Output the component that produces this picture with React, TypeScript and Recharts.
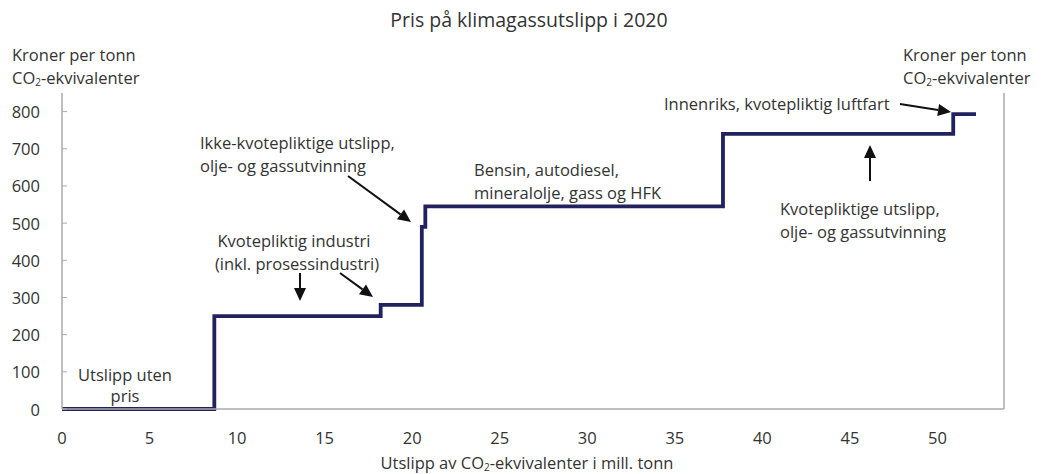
import { LineChart, Line, XAxis, YAxis } from "recharts";

// break points of the price curve (mill. tonn CO2-ekv.) and price from that point on
const emissions = [0, 8.7, 18.2, 20.55, 20.75, 37.75, 50.9, 52.2];
const prices = [0, 250, 280, 490, 545, 740, 793, 793];
const xTicks = [0, 5, 10, 15, 20, 25, 30, 35, 40, 45, 50];
const yTicks = [0, 100, 200, 300, 400, 500, 600, 700, 800];

const data = emissions.map((x, i) => ({ x, price: prices[i] }));

const FONT = "'Open Sans', 'Noto Sans', sans-serif";
const TEXT = "#333";
const AXIS = "#aaa";
const NAVY = "#22225e";
const FS = 16.5;

const LeftTick = ({ x, y, payload }: any) => (
  <g>
    <line x1={x + 22} x2={x + 27} y1={y} y2={y} stroke={AXIS} strokeWidth={1} />
    <text x={x} y={y} textAnchor="end" dominantBaseline="central" fill={TEXT} fontSize={FS} fontFamily={FONT}>
      {payload.value}
    </text>
  </g>
);

const RightTick = ({ x, y, payload }: any) => (
  <g>
    <line x1={x - 28} x2={x - 33} y1={y} y2={y} stroke={AXIS} strokeWidth={1} />
    <text x={x} y={y} textAnchor="start" dominantBaseline="central" fill={TEXT} fontSize={FS} fontFamily={FONT}>
      {payload.value}
    </text>
  </g>
);

const Arrow = ({ x1, y1, x2, y2 }: { x1: number; y1: number; x2: number; y2: number }) => {
  const a = Math.atan2(y2 - y1, x2 - x1);
  const len = 13;
  const w = 6;
  const bx = x2 - len * Math.cos(a);
  const by = y2 - len * Math.sin(a);
  const px = -Math.sin(a) * w;
  const py = Math.cos(a) * w;
  return (
    <g>
      <line x1={x1} y1={y1} x2={bx} y2={by} stroke="#111" strokeWidth={2} />
      <polygon points={`${x2},${y2} ${bx + px},${by + py} ${bx - px},${by - py}`} fill="#111" />
    </g>
  );
};

const T = ({ x, y, anchor = "start", children, size = FS }: any) => (
  <text x={x} y={y} textAnchor={anchor} dominantBaseline="central" fill={TEXT} fontSize={size} fontFamily={FONT}>
    {children}
  </text>
);

const Sub = () => (
  <tspan fontSize={10} dy={5}>2</tspan>
);

export default function App() {
  return (
    <div style={{ position: "relative", width: 1054, height: 474, background: "#fff" }}>
      <style>{`body{margin:0}`}</style>
      <LineChart
        width={1054}
        height={474}
        data={data}
        margin={{ top: 93, right: 0, bottom: 0, left: 0 }}
      >
        <XAxis
          dataKey="x"
          type="number"
          domain={[0, 53.8]}
          ticks={xTicks}
          interval={0}
          height={65}
          axisLine={{ stroke: AXIS, strokeWidth: 1.5 }}
          tickLine={false}
          tickMargin={17}
          tick={{ fill: TEXT, fontSize: FS, fontFamily: FONT }}
        />
        <YAxis
          yAxisId="left"
          orientation="left"
          domain={[0, 850]}
          ticks={yTicks}
          interval={0}
          width={62}
          axisLine={{ stroke: AXIS, strokeWidth: 1.5 }}
          tickLine={false}
          tickSize={0}
          tickMargin={22}
          tick={<LeftTick />}
        />
        <YAxis
          yAxisId="right"
          orientation="right"
          domain={[0, 850]}
          ticks={yTicks}
          interval={0}
          width={50}
          axisLine={{ stroke: AXIS, strokeWidth: 1.5 }}
          tickLine={false}
          tickSize={0}
          tickMargin={28}
          tick={<RightTick />}
        />
        <Line
          yAxisId="left"
          type="stepAfter"
          dataKey="price"
          stroke={NAVY}
          strokeWidth={3.8}
          dot={false}
          isAnimationActive={false}
        />
      </LineChart>

      <svg
        width={1054}
        height={474}
        style={{ position: "absolute", left: 0, top: 0, pointerEvents: "none" }}
      >
        <T x={529} y={19} anchor="middle" size={19.5}>Pris på klimagassutslipp i 2020</T>

        <T x={12} y={54}>Kroner per tonn</T>
        <T x={12} y={77}>CO<Sub /><tspan dy={-5}>-ekvivalenter</tspan></T>
        <T x={903} y={54}>Kroner per tonn</T>
        <T x={903} y={77}>CO<Sub /><tspan dy={-5}>-ekvivalenter</tspan></T>

        <T x={527} y={462} anchor="middle">
          Utslipp av CO<Sub /><tspan dy={-5}>-ekvivalenter i mill. tonn</tspan>
        </T>

        <T x={125} y={374} anchor="middle">Utslipp uten</T>
        <T x={125} y={395} anchor="middle">pris</T>

        <T x={294} y={240} anchor="middle">Kvotepliktig industri</T>
        <T x={297} y={263} anchor="middle">(inkl. prosessindustri)</T>
        <Arrow x1={300} y1={273} x2={300} y2={301} />
        <Arrow x1={340} y1={273} x2={373} y2={297} />

        <T x={200} y={142}>Ikke-kvotepliktige utslipp,</T>
        <T x={200} y={165}>olje- og gassutvinning</T>
        <Arrow x1={348} y1={176} x2={411} y2={222} />

        <T x={474} y={169}>Bensin, autodiesel,</T>
        <T x={474} y={192}>mineralolje, gass og HFK</T>

        <T x={664} y={103}>Innenriks, kvotepliktig luftfart</T>
        <Arrow x1={900} y1={104} x2={951} y2={112} />

        <Arrow x1={870} y1={181} x2={870} y2={145} />
        <T x={780} y={208}>Kvotepliktige utslipp,</T>
        <T x={780} y={231}>olje- og gassutvinning</T>
      </svg>
    </div>
  );
}
